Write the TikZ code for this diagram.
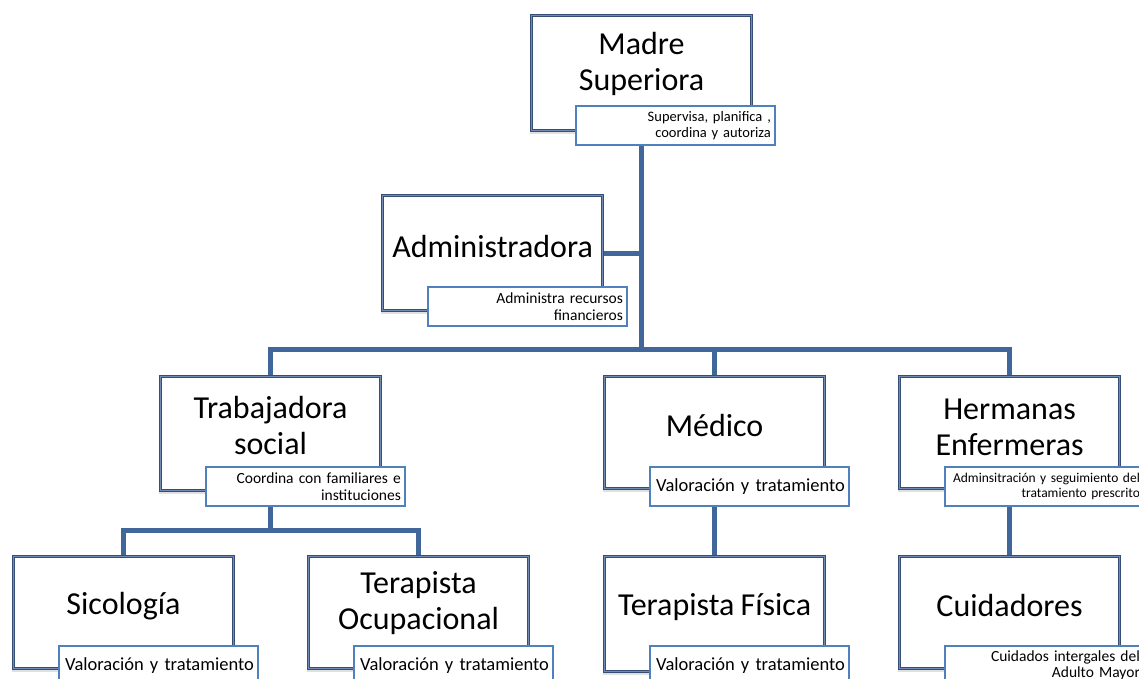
\documentclass[tikz,border=0pt]{standalone}
\usepackage{fontspec}
\setmainfont[WordSpace=0.85]{Carlito}
\usetikzlibrary{shadows,backgrounds,calc}
\definecolor{conn}{RGB}{64,102,154}
\definecolor{boxout}{RGB}{52,78,118}
\definecolor{boxin}{RGB}{112,140,178}
\definecolor{subline}{RGB}{79,129,189}
\tikzset{
  mainbox/.style={rectangle, draw=boxout, line width=1.1pt, double=boxin, double distance=1.0pt,
    fill=white, anchor=north west, minimum width=220pt,
    drop shadow={shadow xshift=-2pt, shadow yshift=-3pt, opacity=0.2, fill=black!60}},
  maintext/.style={inner sep=0pt, align=center, font=\fontsize{32}{36}\selectfont},
  subbox/.style={rectangle, draw=subline, line width=1.8pt, fill=white, anchor=north west,
    minimum height=39pt, inner xsep=4pt, inner ysep=1pt, text width=191pt, align=right},
  connector/.style={draw=conn, line width=5pt},
}
\begin{document}
\begin{tikzpicture}[x=1pt,y=-1pt]
\useasboundingbox (0,0) rectangle (1139,679);
% main boxes
\node[mainbox, minimum height=115pt] (ms) at (531,15) {};
\node[mainbox, minimum height=115pt] (ad) at (382,195) {};
\node[mainbox, minimum height=114pt] (tw) at (160,376) {};
\node[mainbox, minimum height=112pt] (md) at (604,376) {};
\node[mainbox, minimum height=112pt] (he) at (899,376) {};
\node[mainbox, minimum height=112pt] (si) at (13,556) {};
\node[mainbox, minimum height=112pt] (to) at (308,556) {};
\node[mainbox, minimum height=115pt] (tf) at (604,556) {};
\node[mainbox, minimum height=112pt] (cu) at (899,556) {};
% main texts
\node[maintext] (mst) at ($(ms.north)!0.42!(ms.south)$) {Madre\\Superiora};
\node[maintext] (adt) at ($(ad.north)!0.44!(ad.south)$) {Administradora};
\node[maintext] (twt) at ($(tw.north)!0.43!(tw.south)$) {Trabajadora\\social};
\node[maintext] (mdt) at ($(md.north)!0.44!(md.south)$) {Médico};
\node[maintext] (het) at ($(he.north)!0.45!(he.south)$) {Hermanas\\Enfermeras};
\node[maintext] (sit) at ($(si.north)!0.44!(si.south)$) {Sicología};
\node[maintext] (tot) at ($(to.north)!0.42!(to.south)$) {Terapista\\Ocupacional};
\node[maintext] (tft) at ($(tf.north)!0.44!(tf.south)$) {Terapista Física};
\node[maintext] (cut) at ($(cu.north)!0.44!(cu.south)$) {Cuidadores};
% sub boxes
\node[subbox, font=\fontsize{14.5}{16}\selectfont] (mss) at (575,105) {Supervisa, planifica ,\\coordina y autoriza};
\node[subbox, font=\fontsize{15.5}{17}\selectfont] (ads) at (427,286) {Administra recursos\\financieros};
\node[subbox, font=\fontsize{15.5}{17}\selectfont] (tws) at (205,466) {Coordina con familiares e\\instituciones};
\node[subbox, font=\fontsize{18.5}{20}\selectfont] (mds) at (649,466) {Valoración y tratamiento};
\node[subbox, font=\fontsize{13.5}{15.5}\selectfont] (hes) at (944,466) {Adminsitración y seguimiento del\\tratamiento prescrito};
\node[subbox, font=\fontsize{18.5}{20}\selectfont] (sis) at (58,645) {Valoración y tratamiento};
\node[subbox, font=\fontsize{18.5}{20}\selectfont] (tos) at (353,645) {Valoración y tratamiento};
\node[subbox, font=\fontsize{18.5}{20}\selectfont] (tfs) at (649,645) {Valoración y tratamiento};
\node[subbox, font=\fontsize{15.5}{15.5}\selectfont] (cus) at (944,645) {Cuidados intergales del\\Adulto Mayor};
% connectors
\coordinate (bus) at (641,349);
\coordinate (bus2) at (270,530);
\begin{pgfonlayer}{background}
\draw[connector] (ms.south) -- (ms.south |- bus);
\draw[connector] (ad.east) -- (ad.east -| ms.south);
\draw[connector] (tw.north) |- (bus) -| (he.north);
\draw[connector] (md.north) -- (md.north |- bus);
\draw[connector] (tw.south) -- (tw.south |- bus2);
\draw[connector] (si.north) |- (bus2) -| (to.north);
\draw[connector] (md.south) -- (tf.north);
\draw[connector] (he.south) -- (cu.north);
\end{pgfonlayer}
\end{tikzpicture}
\end{document}
